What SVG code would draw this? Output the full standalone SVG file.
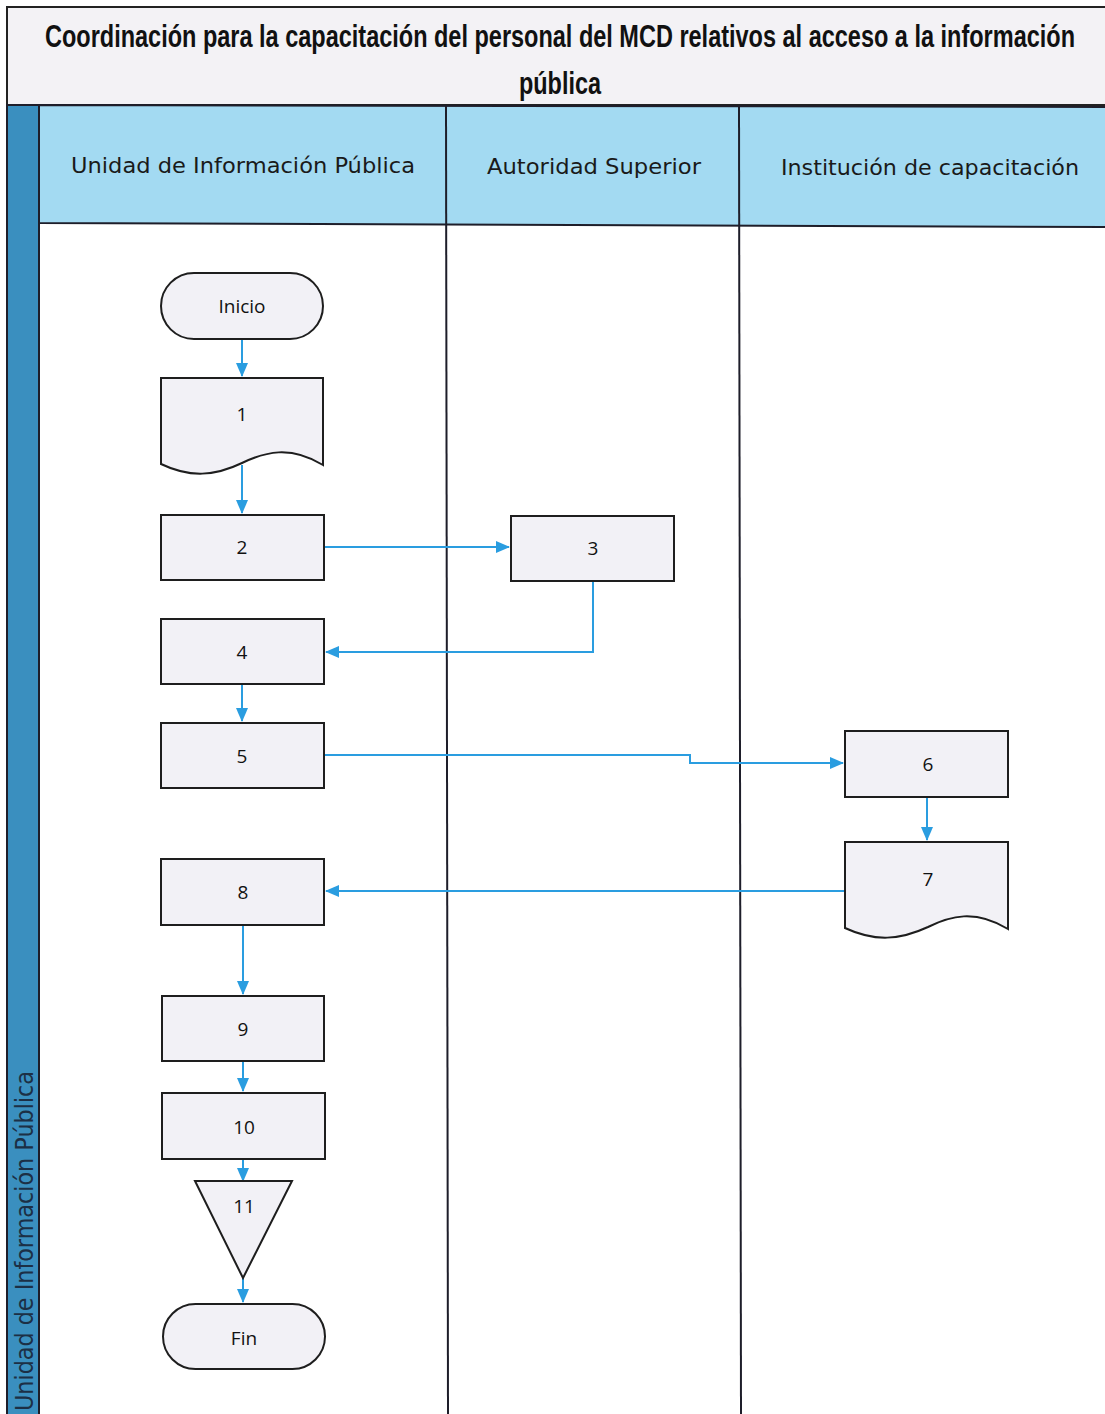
<svg xmlns="http://www.w3.org/2000/svg" width="1105" height="1414" viewBox="0 0 1105 1414">
<style>
.title{font-family:"Liberation Sans Narrow","Liberation Sans",Arial,sans-serif;font-weight:bold;font-size:32px;fill:#111;}
.hdr{font-family:"DejaVu Sans","Open Sans",sans-serif;font-size:22px;fill:#1a1a1a;text-anchor:middle;}
.lbl{font-family:"Open Sans","Liberation Sans",sans-serif;font-size:19px;fill:#111;text-anchor:middle;}
.node{fill:#f2f1f6;stroke:#1e1e1e;stroke-width:2;}
.conn{fill:none;stroke:#2a9de0;stroke-width:2;}
.lane{stroke:#1e1e2a;stroke-width:2;fill:none;}
</style>
<defs>
<marker id="arr" viewBox="0 0 14 12" refX="13" refY="6" markerWidth="14" markerHeight="12" markerUnits="userSpaceOnUse" orient="auto">
<path d="M0,0 L14,6 L0,12 Z" fill="#2a9de0"/>
</marker>
</defs>
<rect width="1105" height="1414" fill="#ffffff"/>
<!-- title -->
<g id="title">
<rect x="7" y="7" width="1110" height="98" fill="#f3f2f5" stroke="#222" stroke-width="2"/>
<text class="title" x="560" y="47" text-anchor="middle" textLength="1030" lengthAdjust="spacingAndGlyphs">Coordinación para la capacitación del personal del MCD relativos al acceso a la información</text>
<text class="title" x="560" y="94" text-anchor="middle" textLength="82" lengthAdjust="spacingAndGlyphs">pública</text>
</g>
<!-- pool band -->
<g id="pool">
<rect x="7" y="105" width="32" height="1320" fill="#3a8fbf" stroke="#1e1e2a" stroke-width="2"/>
<text x="24" y="1411" transform="rotate(-90 24 1411)" font-family="'DejaVu Sans','Open Sans',sans-serif" font-size="25" fill="#1c2f45" dy="9" textLength="340" lengthAdjust="spacingAndGlyphs">Unidad de Información Pública</text>
</g>
<!-- header -->
<g id="header">
<polygon points="39,105 1110,107 1110,227 39,223" fill="#a3daf2" stroke="#1e1e2a" stroke-width="2"/>
<text class="hdr" x="243" y="173" textLength="344" lengthAdjust="spacingAndGlyphs">Unidad de Información Pública</text>
<text class="hdr" x="594" y="174" textLength="214" lengthAdjust="spacingAndGlyphs">Autoridad Superior</text>
<text class="hdr" x="930" y="175" textLength="298" lengthAdjust="spacingAndGlyphs">Institución de capacitación</text>
</g>
<g id="lanes">
<line class="lane" x1="446" y1="105" x2="448" y2="1414"/>
<line class="lane" x1="739" y1="106" x2="741" y2="1414"/>
</g>
<!-- connectors -->
<g id="connectors">
<path class="conn" d="M242,339 V376" marker-end="url(#arr)"/>
<path class="conn" d="M242,465 V513" marker-end="url(#arr)"/>
<path class="conn" d="M324,547 H509" marker-end="url(#arr)"/>
<path class="conn" d="M593,581 V652 H326" marker-end="url(#arr)"/>
<path class="conn" d="M242,684 V721" marker-end="url(#arr)"/>
<path class="conn" d="M324,755 H690 V763 H843" marker-end="url(#arr)"/>
<path class="conn" d="M927,797 V840" marker-end="url(#arr)"/>
<path class="conn" d="M845,891 H326" marker-end="url(#arr)"/>
<path class="conn" d="M243,925 V994" marker-end="url(#arr)"/>
<path class="conn" d="M243,1061 V1091" marker-end="url(#arr)"/>
<path class="conn" d="M243,1159 V1181" marker-end="url(#arr)"/>
<path class="conn" d="M243,1278 V1302" marker-end="url(#arr)"/>
</g>
<!-- nodes -->
<g id="n-inicio">
<rect class="node" x="161" y="273" width="162" height="66" rx="33" ry="33"/>
<text class="lbl" x="242" y="313">Inicio</text>
</g>
<g id="n1">
<path class="node" d="M161,378 H323 V465 C290,445 265,452 242,463 C215,476 190,478 161,464 Z"/>
<text class="lbl" x="242" y="421">1</text>
</g>
<g id="n2">
<rect class="node" x="161" y="515" width="163" height="65"/>
<text class="lbl" x="242" y="554">2</text>
</g>
<g id="n3">
<rect class="node" x="511" y="516" width="163" height="65"/>
<text class="lbl" x="593" y="555">3</text>
</g>
<g id="n4">
<rect class="node" x="161" y="619" width="163" height="65"/>
<text class="lbl" x="242" y="659">4</text>
</g>
<g id="n5">
<rect class="node" x="161" y="723" width="163" height="65"/>
<text class="lbl" x="242" y="763">5</text>
</g>
<g id="n6">
<rect class="node" x="845" y="731" width="163" height="66"/>
<text class="lbl" x="928" y="771">6</text>
</g>
<g id="n7">
<path class="node" d="M845,842 H1008 V929 C975,909 950,916 928,927 C900,940 875,942 845,928 Z"/>
<text class="lbl" x="928" y="886">7</text>
</g>
<g id="n8">
<rect class="node" x="161" y="859" width="163" height="66"/>
<text class="lbl" x="243" y="899">8</text>
</g>
<g id="n9">
<rect class="node" x="162" y="996" width="162" height="65"/>
<text class="lbl" x="243" y="1036">9</text>
</g>
<g id="n10">
<rect class="node" x="162" y="1093" width="163" height="66"/>
<text class="lbl" x="244" y="1134">10</text>
</g>
<g id="n11">
<polygon class="node" points="195,1181 292,1181 243,1278"/>
<text class="lbl" x="244" y="1213">11</text>
</g>
<g id="n-fin">
<rect class="node" x="163" y="1304" width="162" height="65" rx="32.5" ry="32.5"/>
<text class="lbl" x="244" y="1345">Fin</text>
</g>
</svg>
